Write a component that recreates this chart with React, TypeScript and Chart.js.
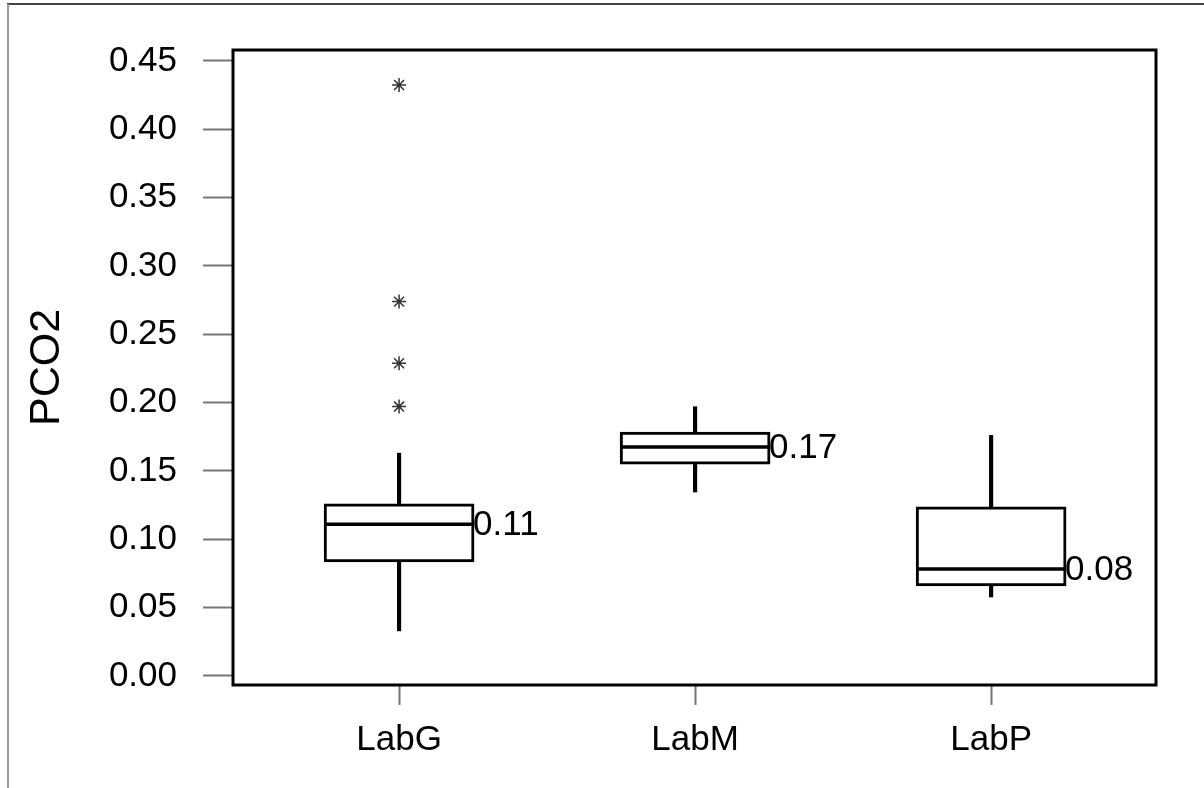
import React, { useEffect, useRef } from 'react';
import { Chart, registerables } from 'chart.js';

Chart.register(...registerables);

// ---- data ----
const categories = ['LabG', 'LabM', 'LabP'];
const categoryPositions = [1, 2, 3];
const whiskerLow = [0.033, 0.1346, 0.0578];
const q1 = [0.0834, 0.155, 0.0659];
const median = [0.111, 0.1676, 0.0783];
const q3 = [0.1259, 0.1785, 0.1237];
const whiskerHigh = [0.163, 0.197, 0.176];
const outlierCategory = [1, 1, 1, 1];
const outlierValues = [0.4324, 0.2739, 0.2288, 0.1971];
const yTicks = [0, 0.05, 0.1, 0.15, 0.2, 0.25, 0.3, 0.35, 0.4, 0.45];
const yTitle = 'PCO2';

const FONT = '"Liberation Sans", Arial, Helvetica, sans-serif';

export default function App() {
  const ref = useRef<HTMLCanvasElement>(null);

  useEffect(() => {
    if (!ref.current) return;

    const framePlugin = {
      id: 'framePlugin',
      beforeDraw(chart: any) {
        const ctx = chart.ctx;
        ctx.save();
        ctx.fillStyle = '#fff';
        ctx.fillRect(0, 0, chart.width, chart.height);
        ctx.lineWidth = 2;
        ctx.strokeStyle = '#444';
        ctx.beginPath();
        ctx.moveTo(7, 4);
        ctx.lineTo(chart.width, 4);
        ctx.stroke();
        ctx.strokeStyle = '#9a9a9a';
        ctx.beginPath();
        ctx.moveTo(8, 4);
        ctx.lineTo(8, chart.height);
        ctx.stroke();
        ctx.restore();
      },
      afterDatasetsDraw(chart: any) {
        const ctx = chart.ctx;
        const yScale = chart.scales.y;
        const boxMeta = chart.getDatasetMeta(2);
        ctx.save();
        boxMeta.data.forEach((el: any, i: number) => {
          const { x, width } = el.getProps(['x', 'width'], true);
          const l = x - width / 2;
          const r = x + width / 2;
          const y = yScale.getPixelForValue(median[i]);
          ctx.strokeStyle = '#000';
          ctx.lineWidth = 3.5;
          ctx.beginPath();
          ctx.moveTo(l, y);
          ctx.lineTo(r, y);
          ctx.stroke();
          ctx.fillStyle = '#000';
          ctx.font = `35px ${FONT}`;
          ctx.textAlign = 'left';
          ctx.textBaseline = 'middle';
          ctx.fillText(median[i].toFixed(2), r - 1, y + 1);
        });
        ctx.restore();
      },
      afterDraw(chart: any) {
        const ctx = chart.ctx;
        const { left, top, right, bottom } = chart.chartArea;
        ctx.save();
        ctx.strokeStyle = '#000';
        ctx.lineWidth = 3;
        ctx.strokeRect(left, top, right - left, bottom - top);
        ctx.restore();
      },
    };

    const chart = new Chart(ref.current, {
      type: 'bar',
      data: {
        datasets: [
          {
            label: 'lower whisker',
            data: categoryPositions.map((p, i) => ({ x: p, y: [whiskerLow[i], q1[i]] })),
            backgroundColor: '#000',
            borderWidth: 0,
            barThickness: 3.5,
            grouped: false,
            order: 3,
          } as any,
          {
            label: 'upper whisker',
            data: categoryPositions.map((p, i) => ({ x: p, y: [q3[i], whiskerHigh[i]] })),
            backgroundColor: '#000',
            borderWidth: 0,
            barThickness: 3.5,
            grouped: false,
            order: 2,
          } as any,
          {
            label: 'box',
            data: categoryPositions.map((p, i) => ({ x: p, y: [q1[i], q3[i]] })),
            backgroundColor: '#fff',
            borderColor: '#000',
            borderWidth: 3,
            borderSkipped: false,
            barThickness: 150,
            grouped: false,
            order: 1,
          } as any,
          {
            type: 'scatter',
            label: 'outliers',
            data: outlierCategory.map((c, i) => ({ x: c, y: outlierValues[i] })),
            pointStyle: 'star',
            pointRadius: 7,
            borderColor: '#333',
            backgroundColor: 'rgba(0,0,0,0)',
            borderWidth: 1.5,
            order: 0,
          } as any,
        ],
      },
      options: {
        responsive: false,
        animation: false,
        events: [],
        layout: { padding: { top: 50, right: 48, left: 0, bottom: 0 } },
        plugins: {
          legend: { display: false },
          tooltip: { enabled: false },
          title: { display: false },
        },
        scales: {
          x: {
            type: 'linear',
            min: 0.439,
            max: 3.557,
            offset: false,
            afterFit: (s: any) => {
              s.height = 103;
            },
            afterBuildTicks: (s: any) => {
              s.ticks = categoryPositions.map((v) => ({ value: v }));
            },
            ticks: {
              autoSkip: false,
              maxRotation: 0,
              padding: 14,
              color: '#000',
              font: { family: FONT, size: 35 },
              callback: (v: any) => {
                const idx = categoryPositions.indexOf(Number(v));
                return idx >= 0 ? categories[idx] : '';
              },
            },
            grid: {
              display: true,
              offset: false,
              drawOnChartArea: false,
              drawTicks: true,
              tickLength: 20,
              tickColor: '#777',
              tickWidth: 2,
            },
            border: { display: false },
          },
          y: {
            type: 'linear',
            min: -0.0066,
            max: 0.458,
            afterFit: (s: any) => {
              s.width = 233;
            },
            afterBuildTicks: (s: any) => {
              s.ticks = yTicks.map((v) => ({ value: v }));
            },
            ticks: {
              padding: 26,
              color: '#000',
              font: { family: FONT, size: 35 },
              callback: (v: any) => Number(v).toFixed(2),
            },
            grid: {
              display: true,
              offset: false,
              drawOnChartArea: false,
              drawTicks: true,
              tickLength: 30,
              tickColor: '#777',
              tickWidth: 2,
            },
            border: { display: false },
            title: {
              display: true,
              text: yTitle,
              color: '#000',
              font: { family: FONT, size: 43 },
              padding: { top: 21, bottom: 0 },
            },
          },
        },
      } as any,
      plugins: [framePlugin],
    });

    return () => {
      chart.destroy();
    };
  }, []);

  return (
    <div style={{ position: 'fixed', left: 0, top: 0, width: 1204, height: 788, background: '#fff' }}>
      <canvas ref={ref} width={1204} height={788} style={{ display: 'block', width: 1204, height: 788 }} />
    </div>
  );
}
